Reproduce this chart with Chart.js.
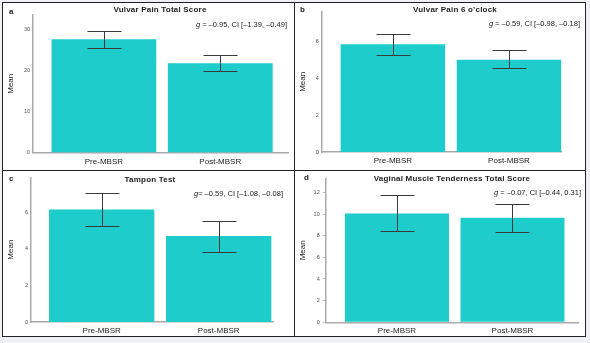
<!DOCTYPE html>
<html>
<head>
<meta charset="utf-8">
<script src="https://cdn.jsdelivr.net/npm/chart.js@4"></script>
<style>
  body { margin:0; width:590px; height:343px; background:#eef0f3; position:relative; overflow:hidden;
         font-family:"Liberation Sans", Arial, sans-serif; color:#222; }
  #frame { position:absolute; left:2px; top:2px; width:584px; height:335px; background:#fff;
           box-sizing:border-box; border:1px solid #222; }
  .vline { position:absolute; left:294px; top:2px; width:1px; height:335px; background:#222; }
  .hline { position:absolute; left:2px; top:170px; width:584px; height:1px; background:#222; }
  canvas { position:absolute; }
  .lab { position:absolute; white-space:nowrap; line-height:1; }
  .letter { font-weight:bold; font-size:8px; transform:translateY(-50%); }
  .title { font-weight:bold; font-size:8px; letter-spacing:0.2px; transform:translate(-50%,-50%); }
  .note { font-size:7.5px; transform:translateY(-50%); }
</style>
</head>
<body>
<div id="frame"></div>
<div class="vline"></div>
<div class="hline"></div>

<script>
// groups on the x axis
const groups = ["Pre-MBSR", "Post-MBSR"];

// a: vulvar pain total score
const painTotalMean = [27.5, 21.7];
const painTotalLo = [25.4, 19.8];
const painTotalHi = [29.6, 23.6];
const painTotalTicks = [0, 10, 20, 30];

// b: vulvar pain 6 o'clock
const pain6Mean = [5.87, 5.03];
const pain6Lo = [5.27, 4.56];
const pain6Hi = [6.45, 5.56];
const pain6Ticks = [0, 2, 4, 6];

// c: tampon test
const tamponMean = [6.14, 4.69];
const tamponLo = [5.23, 3.81];
const tamponHi = [7.03, 5.54];
const tamponTicks = [0, 2, 4, 6];

// d: vaginal muscle tenderness total score
const muscleMean = [10.06, 9.66];
const muscleLo = [8.4, 8.34];
const muscleHi = [11.8, 10.92];
const muscleTicks = [0, 2, 4, 6, 8, 10, 12];

const BAR = "#1fcccc";

const panels = [
  { letter:"a", title:"Vulvar Pain Total Score", g:" = –0.95, CI [–1.39, –0.49]",
    mean:painTotalMean, lo:painTotalLo, hi:painTotalHi, ticks:painTotalTicks, yMax:33.4,
    left:3, top:3, w:291, h:167, axisX:33, plotTop:15, base:152.5, axisRight:288, xMin:-0.609, xMax:1.582,
    titleX:160, titleY:9.5, letterX:9, letterY:12, noteRight:287, noteY:25, tickMarks:false },
  { letter:"b", title:"Vulvar Pain 6 o’clock", g:" = –0.59, CI [–0.98, –0.18]",
    mean:pain6Mean, lo:pain6Lo, hi:pain6Hi, ticks:pain6Ticks, yMax:7.65,
    left:295, top:3, w:290, h:167, axisX:321.7, plotTop:11.7, base:152, axisRight:561.7, xMin:-0.613, xMax:1.454,
    titleX:455, titleY:10, letterX:300, letterY:10, noteRight:580, noteY:24, tickMarks:false },
  { letter:"c", title:"Tampon Test", g:"= –0.59, CI [–1.08, –0.08]",
    mean:tamponMean, lo:tamponLo, hi:tamponHi, ticks:tamponTicks, yMax:7.9,
    left:3, top:171, w:291, h:166, axisX:31, plotTop:176.7, base:322, axisRight:273, xMin:-0.604, xMax:1.464,
    titleX:150, titleY:180, letterX:9, letterY:179, noteRight:283, noteY:194, tickMarks:false },
  { letter:"d", title:"Vaginal Muscle Tenderness Total Score", g:" = –0.07, CI [–0.44, 0.31]",
    mean:muscleMean, lo:muscleLo, hi:muscleHi, ticks:muscleTicks, yMax:13.3,
    left:295, top:171, w:290, h:166, axisX:325.7, plotTop:178.3, base:322.3, axisRight:578, xMin:-0.617, xMax:1.567,
    titleX:452, titleY:179, letterX:304, letterY:178, noteRight:581, noteY:193, tickMarks:true }
];

function label(cls, html, css) {
  const d = document.createElement("div");
  d.className = "lab " + cls;
  d.innerHTML = html;
  Object.assign(d.style, css);
  document.body.appendChild(d);
}

// error bars drawn through the y scale
function errorBars(lo, hi) {
  return {
    id: "errorBars",
    afterDatasetsDraw(chart) {
      const ctx = chart.ctx;
      const ys = chart.scales.y;
      const meta = chart.getDatasetMeta(0);
      ctx.save();
      ctx.strokeStyle = "#3a3a3a";
      ctx.lineWidth = 1;
      meta.data.forEach((bar, i) => {
        const x = Math.round(bar.x) + 0.5;
        const yh = Math.round(ys.getPixelForValue(hi[i])) + 0.5;
        const yl = Math.round(ys.getPixelForValue(lo[i])) + 0.5;
        ctx.beginPath();
        ctx.moveTo(x, yh); ctx.lineTo(x, yl);
        ctx.moveTo(x - 17, yh); ctx.lineTo(x + 17, yh);
        ctx.moveTo(x - 17, yl); ctx.lineTo(x + 17, yl);
        ctx.stroke();
      });
      ctx.restore();
    }
  };
}

panels.forEach(p => {
  const cv = document.createElement("canvas");
  cv.width = p.w; cv.height = p.h;
  cv.style.left = p.left + "px"; cv.style.top = p.top + "px";
  document.body.appendChild(cv);

  const yWidth = p.axisX - p.left;
  const xHeight = p.h - (p.base - p.top);

  new Chart(cv, {
    type: "bar",
    data: {
      datasets: [{
        data: p.mean.map((v, i) => ({ x: i, y: v })),
        backgroundColor: BAR,
        borderWidth: 0,
        barPercentage: 0.9,
        categoryPercentage: 1
      }]
    },
    options: {
      responsive: false,
      animation: false,
      layout: { padding: { top: p.plotTop - p.top, right: p.w - (p.axisRight - p.left), left: 0, bottom: 0 } },
      plugins: { legend: { display: false }, tooltip: { enabled: false }, title: { display: false } },
      scales: {
        x: {
          type: "linear",
          offset: false,
          min: p.xMin, max: p.xMax,
          grid: { display: false, drawTicks: false },
          border: { color: "#aaa", width: 1.5 },
          afterBuildTicks: s => { s.ticks = groups.map((g, i) => ({ value: i })); },
          afterFit: s => { s.height = xHeight; },
          ticks: {
            autoSkip: false, maxRotation: 0, padding: 4,
            color: "#222", font: { family: "Liberation Sans", size: 8 },
            callback: v => groups[v]
          }
        },
        y: {
          min: 0, max: p.yMax,
          grid: { display: p.tickMarks, drawOnChartArea: false, drawTicks: p.tickMarks, tickLength: 3, color: "#bbb" },
          border: { color: "#aaa", width: 1.5 },
          afterBuildTicks: s => { s.ticks = p.ticks.map(v => ({ value: v })); },
          afterFit: s => { s.width = yWidth; },
          title: { display: true, text: "Mean", color: "#222", padding: { top: 3, bottom: 2 },
                   font: { family: "Liberation Sans", size: 8 } },
          ticks: { padding: 3, color: "#555", font: { family: "Liberation Sans", size: 5.5 } }
        }
      }
    },
    plugins: [errorBars(p.lo, p.hi)]
  });

  label("letter", p.letter, { left: p.letterX + "px", top: p.letterY + "px" });
  label("title", p.title, { left: p.titleX + "px", top: p.titleY + "px" });
  label("note", "<i>g</i>" + p.g, { right: (590 - p.noteRight) + "px", top: p.noteY + "px" });
});
</script>
</body>
</html>
